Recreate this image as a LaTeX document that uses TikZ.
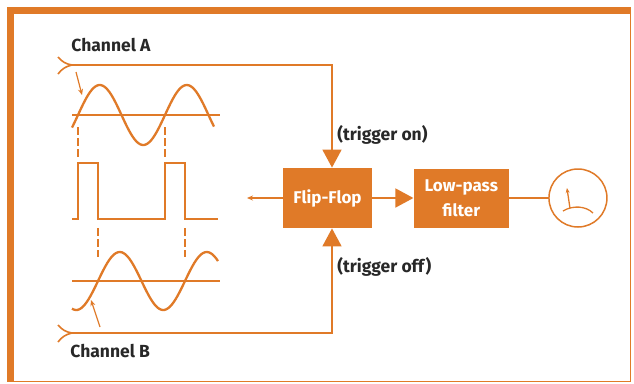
\documentclass[tikz,border=0pt]{standalone}
\usepackage{fontspec}
\setsansfont{Fira Sans}
\usetikzlibrary{arrows.meta,positioning}
\definecolor{hporange}{RGB}{224,122,40}
\definecolor{labelgray}{RGB}{40,40,40}

\begin{document}
\begin{tikzpicture}[x=1pt, y=-1pt, thick]
			\tikzset{block/.style={rectangle,fill=hporange,text=white,align=center,inner sep=0pt,font=\sffamily\bfseries\fontsize{17}{25}\selectfont}}
			\tikzset{lbl/.style={text=labelgray,anchor=west,inner sep=0pt,font=\sffamily\bfseries\fontsize{17.5}{20}\selectfont}}
			\tikzset{wire/.style={draw=hporange,line width=1.6pt}}
			\tikzset{wave/.style={draw=hporange,line width=2.3pt}}
			\tikzset{guide/.style={draw=hporange,line width=1.1pt,dash pattern=on 8pt off 3pt}}
			\tikzset{bigtip/.style={-{Triangle[width=19pt,length=18pt]}}}
			\tikzset{smalltip/.style={-{Stealth[length=6pt,width=5pt]}}}
			% Frame
			\useasboundingbox (0,0) rectangle (634,383);
			\fill[hporange] (7,7) rectangle (631,382);
			\fill[white] (14,14) rectangle (629.5,380.5);
			
			% Blocks
			\node[block, minimum width=89pt, minimum height=60pt] (ff) at (327.5,198) {Flip-Flop};
			\node[block, minimum width=95pt, minimum height=59pt] (lp) [right=41pt of ff] {Low-pass\\filter};
			\node[circle, draw=hporange, line width=1.5pt, minimum size=58pt, inner sep=0pt] (meter) [right=39pt of lp] {};
			
			% Labels
			\node[lbl, font=\sffamily\bfseries\fontsize{17.5}{20}\selectfont] (chanA) at (71,45) {Channel A};
			\node[lbl, font=\sffamily\bfseries\fontsize{17.5}{20}\selectfont] (chanB) at (70,351) {Channel B};
			\node[lbl] (trigon) at (337,135) {(trigger on)};
			\node[lbl] (trigoff) at (337,267) {(trigger off)};
			
			% Inputs and outputs
			\coordinate (inA) at (72,65);
			\coordinate (inB) at (72,333);
			\coordinate (fbout) at (247,198);
			\draw[wire] (inA) to[bend left=20] (58,57);
			\draw[wire] (inA) to[bend right=20] (58,74);
			\draw[wire] (inB) to[bend left=20] (58,325);
			\draw[wire] (inB) to[bend right=20] (58,342);
			\draw[wire, bigtip] (inA) -| ([xshift=4.5pt]ff.north);
			\draw[wire, bigtip] (inB) -| ([xshift=4.5pt]ff.south);
			\draw[wire, bigtip] (ff.east) -- (lp.west);
			\draw[wire, smalltip] (ff.west) -- (fbout);
			\draw[wire] (lp.east) -- (meter.west);
			
			% Meter needle
			\draw[hporange, line width=1.3pt, -{Stealth[length=5pt,width=4pt]}] ([shift={(-8,10)}]meter.center) -- ([shift={(-11,-10)}]meter.center);
			\draw[hporange, line width=1.3pt] ([shift={(-15,13)}]meter.center) .. controls ([shift={(-5,7)}]meter.center) and ([shift={(8,8)}]meter.center) .. ([shift={(15,15)}]meter.center);
			
			% Waveforms
			\draw[wire, line width=1.5pt] (72,115) -- (220,115);
			\draw[wave, domain=72:214, samples=80, smooth] plot (\x, {115-30*sin((\x-78)/87*360)});
			\draw[wave, line width=2pt] (72,219) -| (78,163) -| (98,219) -| (165,163) -| (185,219) -- (218,219);
			\draw[wire, line width=1.5pt] (72,281) -- (220,281);
			\draw[wave, domain=72:218, samples=80, smooth] plot (\x, {281-29*sin((\x-98)/87*360)});
			\foreach \gx in {78,165} \draw[guide] (\gx,127) -- (\gx,157);
			\foreach \gx in {98,185} \draw[guide] (\gx,228) -- (\gx,257);
			\draw[wire, line width=1.2pt, smalltip] (76,72) -- (82,95);
			\draw[wire, line width=1.2pt, smalltip] (100,327) -- (91,300);
\end{tikzpicture}
\end{document}
